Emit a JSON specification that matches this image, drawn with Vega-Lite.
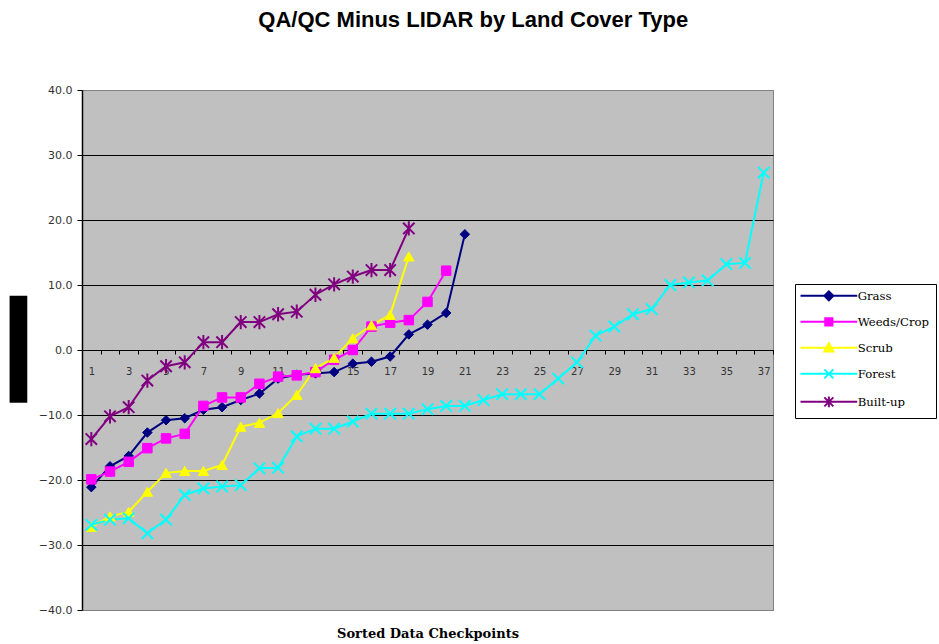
{
  "$schema": "https://vega.github.io/schema/vega-lite/v6.json",
  "width": 691,
  "height": 520,
  "autosize": {"type": "none"},
  "padding": {"left": 82, "top": 90, "right": 166, "bottom": 34},
  "background": "white",
  "title": {
    "text": "QA/QC Minus LIDAR by Land Cover Type",
    "font": "Liberation Sans",
    "fontSize": 22,
    "fontWeight": "bold",
    "color": "black",
    "anchor": "middle",
    "frame": "bounds",
    "offset": 52
  },
  "config": {
    "view": {"fill": "#C0C0C0", "stroke": "#808080", "strokeWidth": 1}
  },
  "datasets": {
    "pts": [
      {"series": "Grass", "i": 1, "v": -21.1}, {"series": "Grass", "i": 2, "v": -17.9}, {"series": "Grass", "i": 3, "v": -16.3}, {"series": "Grass", "i": 4, "v": -12.7}, {"series": "Grass", "i": 5, "v": -10.8}, {"series": "Grass", "i": 6, "v": -10.5}, {"series": "Grass", "i": 7, "v": -9.2}, {"series": "Grass", "i": 8, "v": -8.8}, {"series": "Grass", "i": 9, "v": -7.7}, {"series": "Grass", "i": 10, "v": -6.7}, {"series": "Grass", "i": 11, "v": -4.4}, {"series": "Grass", "i": 12, "v": -3.8}, {"series": "Grass", "i": 13, "v": -3.6}, {"series": "Grass", "i": 14, "v": -3.4}, {"series": "Grass", "i": 15, "v": -2.1}, {"series": "Grass", "i": 16, "v": -1.8}, {"series": "Grass", "i": 17, "v": -1.0}, {"series": "Grass", "i": 18, "v": 2.4}, {"series": "Grass", "i": 19, "v": 3.9}, {"series": "Grass", "i": 20, "v": 5.7}, {"series": "Grass", "i": 21, "v": 17.8},
      {"series": "Weeds/Crop", "i": 1, "v": -19.9}, {"series": "Weeds/Crop", "i": 2, "v": -18.7}, {"series": "Weeds/Crop", "i": 3, "v": -17.2}, {"series": "Weeds/Crop", "i": 4, "v": -15.1}, {"series": "Weeds/Crop", "i": 5, "v": -13.6}, {"series": "Weeds/Crop", "i": 6, "v": -12.9}, {"series": "Weeds/Crop", "i": 7, "v": -8.6}, {"series": "Weeds/Crop", "i": 8, "v": -7.3}, {"series": "Weeds/Crop", "i": 9, "v": -7.3}, {"series": "Weeds/Crop", "i": 10, "v": -5.2}, {"series": "Weeds/Crop", "i": 11, "v": -4.1}, {"series": "Weeds/Crop", "i": 12, "v": -3.9}, {"series": "Weeds/Crop", "i": 13, "v": -3.4}, {"series": "Weeds/Crop", "i": 14, "v": -1.5}, {"series": "Weeds/Crop", "i": 15, "v": 0.0}, {"series": "Weeds/Crop", "i": 16, "v": 3.6}, {"series": "Weeds/Crop", "i": 17, "v": 4.2}, {"series": "Weeds/Crop", "i": 18, "v": 4.6}, {"series": "Weeds/Crop", "i": 19, "v": 7.4}, {"series": "Weeds/Crop", "i": 20, "v": 12.2},
      {"series": "Scrub", "i": 1, "v": -27.2}, {"series": "Scrub", "i": 2, "v": -25.6}, {"series": "Scrub", "i": 3, "v": -24.9}, {"series": "Scrub", "i": 4, "v": -21.8}, {"series": "Scrub", "i": 5, "v": -18.9}, {"series": "Scrub", "i": 6, "v": -18.6}, {"series": "Scrub", "i": 7, "v": -18.6}, {"series": "Scrub", "i": 8, "v": -17.7}, {"series": "Scrub", "i": 9, "v": -11.8}, {"series": "Scrub", "i": 10, "v": -11.2}, {"series": "Scrub", "i": 11, "v": -9.7}, {"series": "Scrub", "i": 12, "v": -6.9}, {"series": "Scrub", "i": 13, "v": -2.8}, {"series": "Scrub", "i": 14, "v": -1.2}, {"series": "Scrub", "i": 15, "v": 1.8}, {"series": "Scrub", "i": 16, "v": 3.8}, {"series": "Scrub", "i": 17, "v": 5.4}, {"series": "Scrub", "i": 18, "v": 14.4},
      {"series": "Forest", "i": 1, "v": -26.9}, {"series": "Forest", "i": 2, "v": -26.1}, {"series": "Forest", "i": 3, "v": -25.9}, {"series": "Forest", "i": 4, "v": -28.2}, {"series": "Forest", "i": 5, "v": -26.1}, {"series": "Forest", "i": 6, "v": -22.3}, {"series": "Forest", "i": 7, "v": -21.3}, {"series": "Forest", "i": 8, "v": -21.0}, {"series": "Forest", "i": 9, "v": -20.8}, {"series": "Forest", "i": 10, "v": -18.2}, {"series": "Forest", "i": 11, "v": -18.1}, {"series": "Forest", "i": 12, "v": -13.3}, {"series": "Forest", "i": 13, "v": -12.1}, {"series": "Forest", "i": 14, "v": -12.1}, {"series": "Forest", "i": 15, "v": -11.0}, {"series": "Forest", "i": 16, "v": -9.8}, {"series": "Forest", "i": 17, "v": -9.8}, {"series": "Forest", "i": 18, "v": -9.8}, {"series": "Forest", "i": 19, "v": -9.1}, {"series": "Forest", "i": 20, "v": -8.6}, {"series": "Forest", "i": 21, "v": -8.6}, {"series": "Forest", "i": 22, "v": -7.7}, {"series": "Forest", "i": 23, "v": -6.8}, {"series": "Forest", "i": 24, "v": -6.8}, {"series": "Forest", "i": 25, "v": -6.8}, {"series": "Forest", "i": 26, "v": -4.4}, {"series": "Forest", "i": 27, "v": -1.9}, {"series": "Forest", "i": 28, "v": 2.2}, {"series": "Forest", "i": 29, "v": 3.6}, {"series": "Forest", "i": 30, "v": 5.5}, {"series": "Forest", "i": 31, "v": 6.3}, {"series": "Forest", "i": 32, "v": 10.0}, {"series": "Forest", "i": 33, "v": 10.4}, {"series": "Forest", "i": 34, "v": 10.7}, {"series": "Forest", "i": 35, "v": 13.2}, {"series": "Forest", "i": 36, "v": 13.4}, {"series": "Forest", "i": 37, "v": 27.3},
      {"series": "Built-up", "i": 1, "v": -13.7}, {"series": "Built-up", "i": 2, "v": -10.2}, {"series": "Built-up", "i": 3, "v": -8.8}, {"series": "Built-up", "i": 4, "v": -4.7}, {"series": "Built-up", "i": 5, "v": -2.5}, {"series": "Built-up", "i": 6, "v": -1.9}, {"series": "Built-up", "i": 7, "v": 1.2}, {"series": "Built-up", "i": 8, "v": 1.2}, {"series": "Built-up", "i": 9, "v": 4.3}, {"series": "Built-up", "i": 10, "v": 4.3}, {"series": "Built-up", "i": 11, "v": 5.5}, {"series": "Built-up", "i": 12, "v": 5.9}, {"series": "Built-up", "i": 13, "v": 8.5}, {"series": "Built-up", "i": 14, "v": 10.1}, {"series": "Built-up", "i": 15, "v": 11.3}, {"series": "Built-up", "i": 16, "v": 12.3}, {"series": "Built-up", "i": 17, "v": 12.3}, {"series": "Built-up", "i": 18, "v": 18.7}
    ]
  },
  "data": {"name": "pts"},
  "encoding": {
    "x": {
      "field": "i",
      "type": "quantitative",
      "scale": {"domain": [0.5, 37.5], "nice": false, "zero": false},
      "axis": {
        "values": [0.5, 1.5, 2.5, 3.5, 4.5, 5.5, 6.5, 7.5, 8.5, 9.5, 10.5, 11.5, 12.5, 13.5, 14.5, 15.5, 16.5, 17.5, 18.5, 19.5, 20.5, 21.5, 22.5, 23.5, 24.5, 25.5, 26.5, 27.5, 28.5, 29.5, 30.5, 31.5, 32.5, 33.5, 34.5, 35.5, 36.5, 37.5],
        "labelExpr": "(datum.value + 0.5) % 2 == 1 ? format(datum.value + 0.5, 'd') : ''",
        "labelOffset": 9.34,
        "offset": -260,
        "grid": false,
        "domainColor": "black",
        "domainWidth": 1,
        "tickColor": "black",
        "tickSize": 4,
        "labelPadding": 12,
        "labelFont": "DejaVu Sans",
        "labelFontSize": 10,
        "labelColor": "#333333",
        "labelBound": false,
        "labelOverlap": false,
        "labelFlush": false,
        "title": "Sorted Data Checkpoints",
        "titleFont": "DejaVu Serif",
        "titleFontSize": 13,
        "titleFontWeight": "bold",
        "titleColor": "black",
        "titleX": 345.5,
        "titleY": 277,
        "titleAlign": "center",
        "titleBaseline": "top"
      }
    },
    "y": {
      "field": "v",
      "type": "quantitative",
      "scale": {"domain": [-40, 40], "nice": false, "zero": false},
      "axis": {
        "values": [-40, -30, -20, -10, 0, 10, 20, 30, 40],
        "format": ".1f",
        "grid": true,
        "gridColor": {"condition": {"test": "abs(datum.value) == 40", "value": "#808080"}, "value": "black"},
        "gridOpacity": 1,
        "gridWidth": 1,
        "domainColor": "black",
        "domainWidth": 1.5,
        "tickColor": "black",
        "tickSize": 5,
        "labelPadding": 5,
        "labelFont": "DejaVu Sans",
        "labelFontSize": 11,
        "labelColor": "#333333",
        "title": "▎",
        "titleFont": "DejaVu Sans",
        "titleFontSize": 90,
        "titleFontWeight": "normal",
        "titleColor": "black",
        "titleAngle": 0,
        "titleX": -72,
        "titleY": 262,
        "titleAlign": "left",
        "titleBaseline": "middle"
      }
    }
  },
  "layer": [
    {
      "mark": {"type": "line", "strokeWidth": 2},
      "encoding": {
        "detail": {"field": "series"},
        "color": {
          "field": "series",
          "type": "nominal",
          "scale": {"domain": ["Grass", "Weeds/Crop", "Scrub", "Forest", "Built-up"], "range": ["#000080", "#FF00FF", "#FFFF00", "#00FFFF", "#800080"]},
          "legend": {
            "orient": "none",
            "legendX": 713,
            "legendY": 194,
            "title": null,
            "strokeColor": "black",
            "fillColor": "white",
            "padding": 6,
            "rowPadding": 9,
            "symbolSize": 81,
            "symbolOffset": 22,
            "labelOffset": 23,
            "labelFont": "DejaVu Serif",
            "labelFontSize": 11.7,
            "labelColor": "black",
            "symbolStrokeWidth": 2,
            "encode": {
              "symbols": {
                "update": {
                  "shape": {"signal": "datum.value === 'Grass' ? 'M-6.3,0L6.3,0M0,-1L1,0L0,1L-1,0Z' : datum.value === 'Weeds/Crop' ? 'M-6.3,0L6.3,0M-0.8,-0.8L0.8,-0.8L0.8,0.8L-0.8,0.8Z' : datum.value === 'Scrub' ? 'M-6.3,0L6.3,0M0,-1L1,0.8L-1,0.8Z' : datum.value === 'Forest' ? 'M-6.3,0L6.3,0M-1,-1L1,1M-1,1L1,-1' : 'M-6.3,0L6.3,0M-1,-1L1,1M-1,1L1,-1M0,-1.2L0,1.2'"},
                  "size": {"value": 81},
                  "fill": {"signal": "datum.value === 'Grass' ? '#000080' : datum.value === 'Weeds/Crop' ? '#FF00FF' : datum.value === 'Scrub' ? '#FFFF00' : 'transparent'"},
                  "stroke": {"signal": "datum.value === 'Grass' ? '#000080' : datum.value === 'Weeds/Crop' ? '#FF00FF' : datum.value === 'Scrub' ? '#FFFF00' : datum.value === 'Forest' ? '#00FFFF' : '#800080'"},
                  "strokeWidth": {"value": 2},
                  "opacity": {"value": 1}
                }
              }
            }
          }
        }
      }
    },
    {
      "mark": {"type": "point", "filled": true, "opacity": 1},
      "encoding": {
        "shape": {
          "field": "series",
          "type": "nominal",
          "scale": {"domain": ["Built-up", "Forest", "Scrub", "Weeds/Crop", "Grass"], "range": ["M-1,-1L1,1M-1,1L1,-1M0,-1.25L0,1.25", "M-1,-1L1,1M-1,1L1,-1", "triangle-up", "square", "diamond"]},
          "legend": null
        },
        "fill": {
          "field": "series",
          "type": "nominal",
          "scale": {"domain": ["Built-up", "Forest", "Scrub", "Weeds/Crop", "Grass"], "range": ["transparent", "transparent", "#FFFF00", "#FF00FF", "#000080"]},
          "legend": null
        },
        "stroke": {
          "field": "series",
          "type": "nominal",
          "scale": {"domain": ["Built-up", "Forest", "Scrub", "Weeds/Crop", "Grass"], "range": ["#800080", "#00FFFF", "#FFFF00", "#FF00FF", "#000080"]},
          "legend": null
        },
        "size": {
          "field": "series",
          "type": "nominal",
          "scale": {"type": "ordinal", "domain": ["Built-up", "Forest", "Scrub", "Weeds/Crop", "Grass"], "range": [130, 130, 110, 90, 90]},
          "legend": null
        },
        "strokeWidth": {
          "field": "series",
          "type": "nominal",
          "scale": {"type": "ordinal", "domain": ["Built-up", "Forest", "Scrub", "Weeds/Crop", "Grass"], "range": [2, 2, 1, 1, 1]},
          "legend": null
        }
      }
    }
  ]
}
